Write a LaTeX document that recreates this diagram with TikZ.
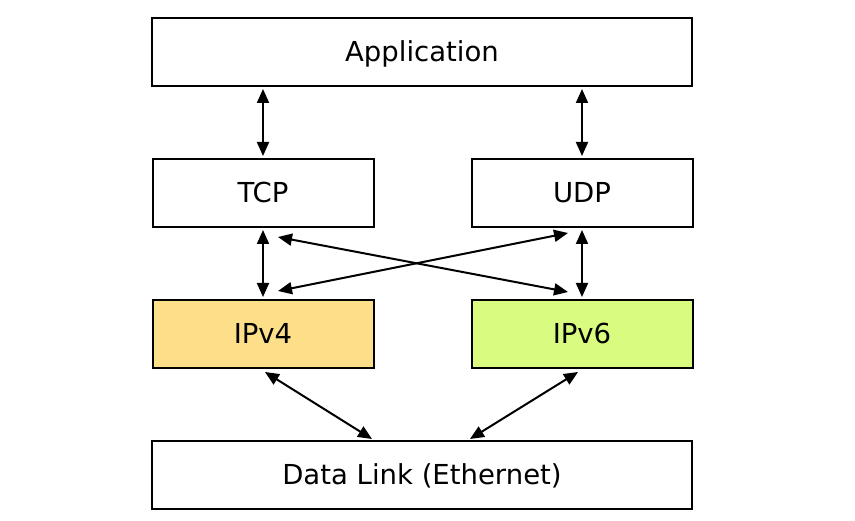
\documentclass[tikz,border=0pt]{standalone}
\usepackage{fontspec}
\setmainfont{DejaVu Sans}
\usetikzlibrary{arrows.meta}
\definecolor{ipvfour}{HTML}{FDDF8A}
\definecolor{ipvsix}{HTML}{D8FB80}
\tikzset{
  layer/.style={draw, line width=2pt, inner sep=0pt, outer sep=0pt, minimum height=68pt, text height=20pt, text depth=0pt, font=\fontsize{27.5}{32}\selectfont},
  wide/.style={layer, minimum width=540pt},
  narrow/.style={layer, minimum width=221pt},
  arr/.style={line width=2pt, {Triangle[length=14pt,width=12pt]}-{Triangle[length=14pt,width=12pt]}}
}
\begin{document}
\begin{tikzpicture}[x=1pt,y=-1pt]
\useasboundingbox (0,0) rectangle (855,521);
\node[wide] (app) at (422,52) {Application};
\node[narrow] (tcp) at (263,193) {TCP};
\node[narrow] (udp) at (582,193) {UDP};
\node[narrow, fill=ipvfour] (v4) at (263,334) {IPv4};
\node[narrow, fill=ipvsix] (v6) at (582,334) {IPv6};
\node[wide] (dl) at (422,475) {Data Link (Ethernet)};
\draw[arr] ([yshift=-3pt]tcp.north |- app.south) -- ([yshift=3pt]tcp.north);
\draw[arr] ([yshift=-3pt]udp.north |- app.south) -- ([yshift=3pt]udp.north);
\draw[arr] ([yshift=-3pt]tcp.south) -- ([yshift=3pt]v4.north);
\draw[arr] ([yshift=-3pt]udp.south) -- ([yshift=3pt]v6.north);
\draw[arr] ([xshift=15pt,yshift=-10pt]tcp.south) -- ([xshift=-14pt,yshift=8pt]v6.north);
\draw[arr] ([xshift=-14pt,yshift=-6pt]udp.south) -- ([xshift=15pt,yshift=9pt]v4.north);
\draw[arr] ([xshift=2pt,yshift=-4pt]v4.south) -- ([xshift=-50pt,yshift=2pt]dl.north);
\draw[arr] ([xshift=-4pt,yshift=-4pt]v6.south) -- ([xshift=48pt,yshift=2pt]dl.north);
\end{tikzpicture}
\end{document}
